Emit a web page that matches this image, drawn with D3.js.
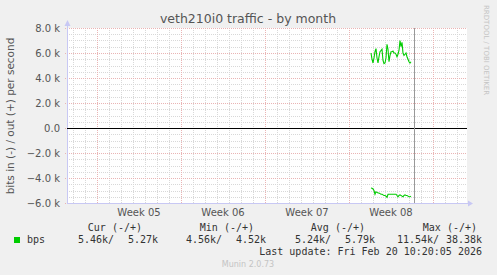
<!DOCTYPE html>
<meta charset="utf-8">
<style>
body { margin: 0; background: #f0f0f0; }
svg { display: block; font-family: "DejaVu Sans", sans-serif; }
.mono { font-family: "DejaVu Sans Mono", monospace; font-size: 10px; fill: #333; }
</style>
<svg width="497" height="275"></svg>
<script src="https://d3js.org/d3.v7.min.js"></script>
<script>
// series: bps, one sample every 2 hours (k bits/s)
var startTime = Date.UTC(2026, 1, 17, 20);
var outValues = [6.0, 5.5, 5.2, 5.6, 6.1, 6.35, 5.6, 5.2, 5.7, 6.1, 6.2, 6.3, 5.4, 5.15, 5.2, 5.6,
    6.7, 6.3, 5.3, 5.8, 6.1, 6.1, 6.15, 6.0, 6.0, 5.9, 5.7, 5.9, 6.2, 7.0, 6.5, 6.85,
    6.0, 5.8, 5.9, 6.0, 5.7, 5.5, 5.3, 5.2, 5.3];
var inValues = [4.80, 4.82, 4.88, 5.0, 5.3, 5.1, 5.15, 5.2, 5.2, 5.25, 5.3, 5.3, 5.35, 5.4, 5.4, 5.45,
    5.55, 5.3, 5.3, 5.3, 5.3, 5.3, 5.3, 5.3, 5.3, 5.3, 5.4, 5.5, 5.4, 5.35, 5.4, 5.45,
    5.5, 5.4, 5.35, 5.4, 5.4, 5.45, 5.5, 5.5, 5.45];
var yTicks = [-6000, -4000, -2000, 0, 2000, 4000, 6000, 8000];
var legendHeads = ["Cur (-/+)", "Min (-/+)", "Avg (-/+)", "Max (-/+)"];
var legendVals = [["5.46k/", "5.27k"], ["4.56k/", "4.52k"], ["5.24k/", "5.79k"], ["11.54k/", "38.38k"]];
var nowTime = new Date(Date.UTC(2026, 1, 21, 10));

var svg = d3.select("svg"),
    pL = 67, pR = 467, pT = 28, pB = 203;

var x = d3.scaleUtc()
    .domain([new Date(Date.UTC(2026, 0, 23, 12)), new Date(Date.UTC(2026, 1, 25, 20))])
    .range([pL, pR]);
var y = d3.scaleLinear().domain([-6000, 8000]).range([pB, pT]);

// plot canvas
svg.append("rect").attr("x", pL).attr("y", pT)
    .attr("width", pR - pL).attr("height", pB - pT).attr("fill", "#fff");

var grid = svg.append("g").attr("shape-rendering", "crispEdges");
// minor grid
grid.selectAll(".vmin").data(d3.utcDay.range(x.domain()[0], x.domain()[1]))
    .enter().append("line")
    .attr("x1", function(d) { return Math.round(x(d)) + 0.5; })
    .attr("x2", function(d) { return Math.round(x(d)) + 0.5; })
    .attr("y1", pT).attr("y2", pB)
    .attr("stroke", "#d8d8d8").attr("stroke-dasharray", "1,1");
grid.selectAll(".hmin").data(d3.range(-6000, 8001, 500))
    .enter().append("line")
    .attr("x1", pL).attr("x2", pR)
    .attr("y1", function(d) { return Math.round(y(d)) + 0.5; })
    .attr("y2", function(d) { return Math.round(y(d)) + 0.5; })
    .attr("stroke", "#d8d8d8").attr("stroke-dasharray", "1,1");
// major grid
var mondays = d3.utcMonday.range(x.domain()[0], x.domain()[1]);
grid.selectAll(".vmaj").data(mondays)
    .enter().append("line")
    .attr("x1", function(d) { return Math.round(x(d)) + 0.5; })
    .attr("x2", function(d) { return Math.round(x(d)) + 0.5; })
    .attr("y1", pT).attr("y2", pB)
    .attr("stroke", "#eab4b4").attr("stroke-dasharray", "1,1");
grid.selectAll(".hmaj").data(yTicks)
    .enter().append("line")
    .attr("x1", pL - 2).attr("x2", pR)
    .attr("y1", function(d) { return Math.round(y(d)) + 0.5; })
    .attr("y2", function(d) { return Math.round(y(d)) + 0.5; })
    .attr("stroke", "#eab4b4").attr("stroke-dasharray", "1,1");

// axes lines with arrows
svg.append("line").attr("x1", pL + 0.5).attr("x2", pL + 0.5).attr("y1", pT - 4).attr("y2", pB + 1)
    .attr("stroke", "#c8c8f4");
svg.append("line").attr("x1", pL).attr("x2", pR + 2).attr("y1", pB + 0.5).attr("y2", pB + 0.5)
    .attr("stroke", "#c8c8f4");
svg.append("path").attr("d", "M" + (pL - 2.5) + "," + (pT - 2) + "L" + (pL + 0.5) + "," + (pT - 8) + "L" + (pL + 3.5) + "," + (pT - 2) + "Z")
    .attr("fill", "#c8c8f4");
svg.append("path").attr("d", "M" + (pR + 1) + "," + (pB - 2.5) + "L" + (pR + 6) + "," + (pB + 0.5) + "L" + (pR + 1) + "," + (pB + 3.5) + "Z")
    .attr("fill", "#c8c8f4");

// zero line
svg.append("line").attr("x1", pL).attr("x2", pR)
    .attr("y1", Math.round(y(0)) + 0.5).attr("y2", Math.round(y(0)) + 0.5)
    .attr("stroke", "#000").attr("shape-rendering", "crispEdges");

// data lines
var pts = outValues.map(function(v, i) {
    return { t: new Date(startTime + i * 7200000), out: v * 1000, inn: -inValues[i] * 1000 };
});
svg.append("path").datum(pts)
    .attr("d", d3.line().x(function(d) { return x(d.t); }).y(function(d) { return y(d.out); }))
    .attr("fill", "none").attr("stroke", "#00cc00").attr("stroke-width", 1.1);
svg.append("path").datum(pts)
    .attr("d", d3.line().x(function(d) { return x(d.t); }).y(function(d) { return y(d.inn); }))
    .attr("fill", "none").attr("stroke", "#00cc00").attr("stroke-width", 1.1);

// now line
svg.append("line").attr("x1", Math.round(x(nowTime)) + 0.5).attr("x2", Math.round(x(nowTime)) + 0.5)
    .attr("y1", pT).attr("y2", pB)
    .attr("stroke", "#999").attr("shape-rendering", "crispEdges");

// y tick labels
svg.selectAll(".ylab").data(yTicks)
    .enter().append("text")
    .attr("x", 60).attr("y", function(d) { return y(d) + 3.5; })
    .attr("text-anchor", "end").attr("font-size", 10).attr("fill", "#555")
    .text(function(d) { return d === 0 ? "0.0" : d3.format(".1f")(d / 1000) + " k"; });

// week labels
svg.selectAll(".xlab").data(mondays.filter(function(d) { return x(d) + 42 < pR; }))
    .enter().append("text")
    .attr("x", function(d) { return x(d3.utcHour.offset(d, 84)); }).attr("y", 216)
    .attr("text-anchor", "middle").attr("font-size", 10).attr("fill", "#555")
    .text(function(d) { return "Week " + d3.utcFormat("%V")(d); });

// title
svg.append("text").attr("x", 248).attr("y", 23).attr("text-anchor", "middle")
    .attr("font-size", 12.5).attr("fill", "#555").text("veth210i0 traffic - by month");

// y axis title
svg.append("text").attr("transform", "translate(14,116) rotate(-90)")
    .attr("text-anchor", "middle").attr("font-size", 10.5).attr("fill", "#555")
    .text("bits in (-) / out (+) per second");

// rrdtool credit
svg.append("text").attr("transform", "translate(484,5) rotate(90)")
    .attr("font-size", 7).attr("fill", "#c4c4c4").text("RRDTOOL / TOBI OETIKER");

// legend
var headX = [142, 254, 365, 477];
var valX = [[78, 158], [186, 266], [295, 375], [397, 482]];
svg.selectAll(".lh").data(legendHeads).enter().append("text")
    .attr("class", "mono").attr("x", function(d, i) { return headX[i]; }).attr("y", 231)
    .attr("text-anchor", "end").text(function(d) { return d; });
legendVals.forEach(function(v, i) {
    svg.append("text").attr("class", "mono").attr("x", valX[i][0]).attr("y", 243).text(v[0]);
    svg.append("text").attr("class", "mono").attr("x", valX[i][1]).attr("y", 243)
        .attr("text-anchor", "end").text(v[1]);
});
svg.append("rect").attr("x", 14).attr("y", 237).attr("width", 6).attr("height", 6).attr("fill", "#00cc00");
svg.append("text").attr("class", "mono").attr("x", 27).attr("y", 243).text("bps");
svg.append("text").attr("class", "mono").attr("x", 482).attr("y", 255)
    .attr("text-anchor", "end").text("Last update: Fri Feb 20 10:20:05 2026");

svg.append("text").attr("x", 248).attr("y", 267).attr("text-anchor", "middle")
    .attr("font-size", 8).attr("fill", "#c4c4c4").text("Munin 2.0.73");
</script>
